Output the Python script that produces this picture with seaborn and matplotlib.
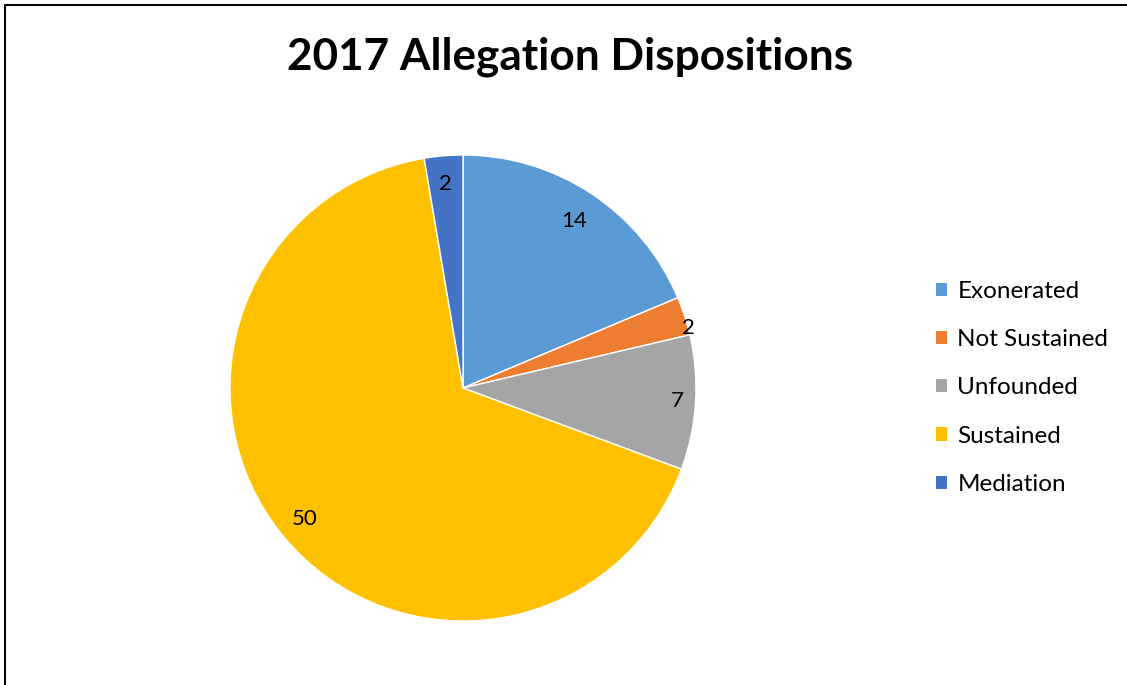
import matplotlib
matplotlib.use('Agg')
import matplotlib.pyplot as plt
import matplotlib.patches as mpatches
import seaborn as sns
import numpy as np

# Data
categories = ['Exonerated', 'Not Sustained', 'Unfounded', 'Sustained', 'Mediation']
counts = [14, 2, 7, 50, 2]
colors = ['#5B9BD5', '#ED7D31', '#A5A5A5', '#FFC000', '#4472C4']
label_dist = [0.86, 1.0, 0.92, 0.88, 0.88]

sns.set_theme(style='white')
plt.rcParams['font.family'] = ['Lato', 'DejaVu Sans']
plt.rcParams['text.color'] = 'black'
palette = sns.color_palette(colors)

W, H = 1127, 685
fig = plt.figure(figsize=(W / 100, H / 100), dpi=100)

# pie axes (center ~ (463, 388) px, radius ~233 px)
cx, cy, r = 463, 388, 233
ax = fig.add_axes([(cx - r) / W, (H - cy - r) / H, 2 * r / W, 2 * r / H])
wedges, _ = ax.pie(counts, colors=palette, startangle=90, counterclock=False,
                   radius=1, wedgeprops=dict(edgecolor='white', linewidth=1))
ax.set_xlim(-1, 1)
ax.set_ylim(-1, 1)
ax.set_aspect('equal')
ax.axis('off')

# data labels
for i, (w, val, d) in enumerate(zip(wedges, counts, label_dist)):
    mid = (w.theta1 + w.theta2) / 2
    if i == 1:
        mid -= 3  # small slice label nudged like the original
    ang = np.deg2rad(mid)
    ax.text(d * np.cos(ang), d * np.sin(ang), str(val), ha='center', va='center',
            fontsize=16, color='black')

# title
fig.text(570 / W, 1 - 57 / H, '2017 Allegation Dispositions', ha='center', va='center',
         fontsize=31.8, fontweight='bold', color='black')

# legend
handles = [mpatches.Patch(facecolor=c, edgecolor='none') for c in palette]
leg = fig.legend(handles, categories, loc='upper left', bbox_to_anchor=(936 / W, 1 - 281 / H),
                 frameon=False, fontsize=17.5, handlelength=0.46, handleheight=0.46,
                 handletextpad=0.42, labelspacing=1.12, borderpad=0, borderaxespad=0)
for t in leg.get_texts():
    t.set_color('black')

# outer chart border (left and top visible)
border = mpatches.Rectangle((4.5 / W, -0.1), 1.2, 1 - 5.5 / H + 0.1, transform=fig.transFigure,
                            fill=False, edgecolor='black', linewidth=1.5, clip_on=False)
fig.add_artist(border)

fig.savefig('out.png', dpi=100, facecolor='white')
